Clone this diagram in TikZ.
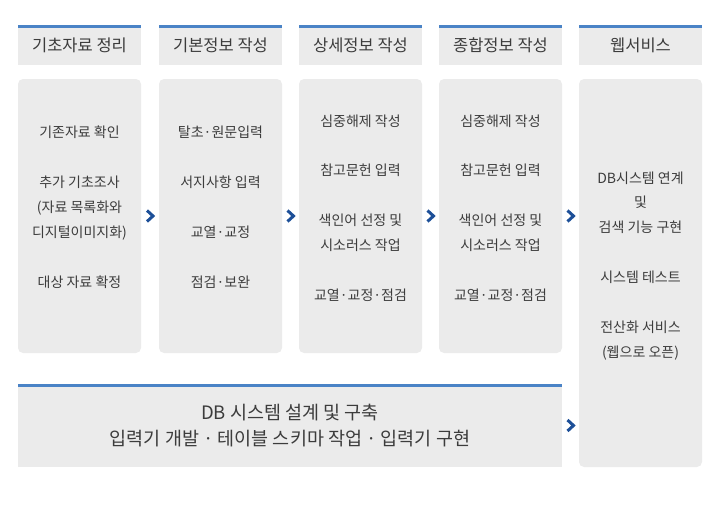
\documentclass[tikz,border=0pt]{standalone}
\usepackage{fontspec}
\setmainfont{Noto Sans CJK KR}
\begin{document}
\begin{tikzpicture}[x=1pt,y=-1pt,
  every node/.style={inner sep=0pt,outer sep=0pt},
  hdr/.style={fill=boxgray,minimum width=123pt,minimum height=40pt,text=txtgray,font=\fontsize{16.5}{18}\selectfont},
  bodybox/.style={fill=boxgray,rounded corners=5pt,minimum width=123pt},
  bodytxt/.style={align=center,text=txtgray,font=\fontsize{14}{25}\selectfont},
  topline/.style={draw=lineblue,line width=3pt},
  chev/.style={draw=chevblue,line width=3pt,line join=miter}]
\definecolor{boxgray}{HTML}{EBEBEB}
\definecolor{txtgray}{HTML}{3C3C3C}
\definecolor{lineblue}{HTML}{4A83C6}
\definecolor{chevblue}{HTML}{1D4F98}
\useasboundingbox (0,0) rectangle (720,525);
% headers
\node[hdr] (h1) at (79.5,45) {기초자료 정리};
\node[hdr] (h2) at (220.5,45) {기본정보 작성};
\node[hdr] (h3) at (360.5,45) {상세정보 작성};
\node[hdr] (h4) at (500.5,45) {종합정보 작성};
\node[hdr] (h5) at (640.5,45) {웹서비스};
\foreach \h in {h1,h2,h3,h4,h5}{\draw[topline] ([yshift=-1.5pt]\h.north west) -- ([yshift=-1.5pt]\h.north east);}
% bodies
\node[bodybox,minimum height=274pt] (b1) at (79.5,216) {};
\node[bodybox,minimum height=274pt] (b2) at (220.5,216) {};
\node[bodybox,minimum height=274pt] (b3) at (360.5,216) {};
\node[bodybox,minimum height=274pt] (b4) at (500.5,216) {};
\node[bodybox,minimum height=388pt] (b5) at (640.5,273) {};
\node[bodytxt] (t1) at (79.5,207) {기존자료 확인\\[25pt]추가 기초조사\\(자료 목록화와\\디지털이미지화)\\[25pt]대상 자료 확정};
\node[bodytxt] (t2) at (220.5,207) {탈초·원문입력\\[25pt]서지사항 입력\\[25pt]교열·교정\\[25pt]점검·보완};
\node[bodytxt] (t3) at (360.5,208) {심중해제 작성\\[24pt]참고문헌 입력\\[25pt]색인어 선정 및\\시소러스 작업\\[25pt]교열·교정·점검};
\node[bodytxt] (t4) at (500.5,208) {심중해제 작성\\[24pt]참고문헌 입력\\[25pt]색인어 선정 및\\시소러스 작업\\[25pt]교열·교정·점검};
\node[bodytxt] (t5) at (640.5,266.5) {DB시스템 연계\\[-1pt]및\\검색 기능 구현\\[25pt]시스템 테스트\\[25pt]전산화 서비스\\(웹으로 오픈)};
% bottom box
\node[fill=boxgray,minimum width=544pt,minimum height=83pt,align=center,text=txtgray,font=\fontsize{18.5}{26}\selectfont] (db) at (290,425.5) {DB 시스템 설계 및 구축\\입력기 개발 · 테이블 스키마 작업 · 입력기 구현};
\draw[topline] ([yshift=-1.5pt]db.north west) -- ([yshift=-1.5pt]db.north east);
% chevrons
\path (b1.east) -- (b2.west) coordinate[midway] (a1);
\path (b2.east) -- (b3.west) coordinate[midway] (a2);
\path (b3.east) -- (b4.west) coordinate[midway] (a3);
\path (b4.east) -- (b5.west |- b4.east) coordinate[midway] (a4);
\path (db.east) -- (b5.west |- db.east) coordinate[midway] (a5);
\foreach \a in {a1,a2,a3,a4,a5}{\draw[chev] ([shift={(-3pt,-5.5pt)}]\a) -- ([shift={(3pt,0pt)}]\a) -- ([shift={(-3pt,5.5pt)}]\a);}
\end{tikzpicture}
\end{document}
